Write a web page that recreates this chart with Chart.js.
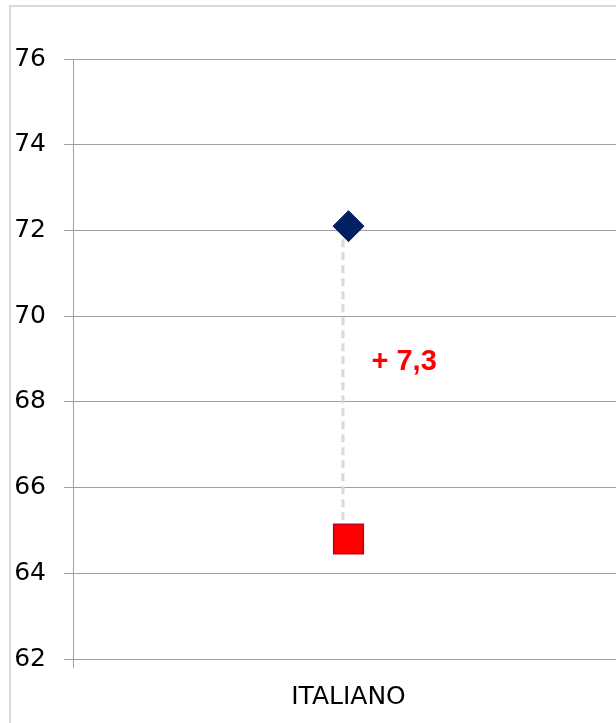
<!DOCTYPE html>
<html>
<head>
<meta charset="utf-8">
<script src="https://cdn.jsdelivr.net/npm/chart.js@4.4.1/dist/chart.umd.min.js"></script>
<style>
  html, body { margin: 0; padding: 0; background: #ffffff; overflow: hidden; width: 616px; height: 723px; }
  #wrap { position: relative; width: 616px; height: 723px; overflow: hidden; }
  #frame { position: absolute; left: 9px; top: 5px; width: 700px; height: 800px;
           border-left: 2px solid #d9d9d9; border-top: 2px solid #d9d9d9; box-sizing: border-box; }
  canvas { position: absolute; left: 0; top: 0; }
</style>
</head>
<body>
<div id="wrap">
  <div id="frame"></div>
  <canvas id="c" width="624" height="723"></canvas>
</div>
<script>
// ---- data ----
const categories = ['ITALIANO'];
const seriesHigh = [72.1];   // navy diamond
const seriesLow = [64.8];    // red square
const diffLabels = ['+ 7,3'];
const yTickValues = [62, 64, 66, 68, 70, 72, 74, 76];

const lineData = categories.flatMap((c, i) => [
  { x: c, y: seriesHigh[i] },
  { x: c, y: seriesLow[i] }
]);

const connectorShift = {
  id: 'connectorShift',
  beforeDatasetDraw(chart, args) {
    if (chart.data.datasets[args.index].isConnector) {
      chart.ctx.save();
      chart.ctx.translate(-5.5, 0);
    }
  },
  afterDatasetDraw(chart, args) {
    if (chart.data.datasets[args.index].isConnector) {
      chart.ctx.restore();
    }
  }
};

const diffLabelPlugin = {
  id: 'diffLabel',
  afterDatasetsDraw(chart) {
    const ctx = chart.ctx;
    const xs = chart.scales.x, ys = chart.scales.y;
    ctx.save();
    ctx.font = 'bold 29px "Liberation Sans", Arial, sans-serif';
    ctx.fillStyle = '#ff0000';
    ctx.textAlign = 'left';
    ctx.textBaseline = 'middle';
    categories.forEach((c, i) => {
      const px = xs.getPixelForValue(i);
      const mid = (ys.getPixelForValue(seriesHigh[i]) + ys.getPixelForValue(seriesLow[i])) / 2;
      ctx.fillText(diffLabels[i], px + 23, mid - 21);
    });
    ctx.restore();
  }
};

const gridGray = '#a0a0a0';
const tickFont = { family: '"DejaVu Sans", Verdana, sans-serif', size: 25 };

new Chart(document.getElementById('c'), {
  type: 'line',
  data: {
    labels: categories,
    datasets: [
      {
        label: 'high',
        data: seriesHigh,
        showLine: false,
        pointStyle: 'rectRot',
        pointRadius: 15.5,
        pointBackgroundColor: '#002060',
        pointBorderColor: '#002060',
        pointBorderWidth: 1
      },
      {
        label: 'low',
        data: seriesLow,
        showLine: false,
        pointStyle: 'rect',
        pointRadius: 21,
        pointBackgroundColor: '#ff0000',
        pointBorderColor: '#c00020',
        pointBorderWidth: 1.5
      },
      {
        label: 'connector',
        isConnector: true,
        data: lineData,
        borderColor: '#d9d9d9',
        borderWidth: 3,
        borderDash: [8, 5],
        pointRadius: 0,
        fill: false
      }
    ]
  },
  options: {
    responsive: false,
    animation: false,
    devicePixelRatio: 1,
    layout: { autoPadding: false, padding: { left: 0, right: 0, top: 59, bottom: 0 } },
    plugins: { legend: { display: false }, tooltip: { enabled: false } },
    scales: {
      x: {
        type: 'category',
        offset: true,
        afterFit(scale) { scale.height = 64; scale.paddingLeft = 0; scale.paddingRight = 0; },
        grid: { display: true, drawOnChartArea: false, offset: true, tickLength: 9, color: gridGray },
        border: { display: true, color: gridGray },
        ticks: { font: tickFont, color: '#000000', padding: 14 }
      },
      y: {
        min: 62,
        max: 76,
        afterFit(scale) { scale.width = 73; },
        afterBuildTicks(scale) { scale.ticks = yTickValues.map(v => ({ value: v })); },
        grid: { color: gridGray, tickLength: 9, lineWidth: 1 },
        border: { display: true, color: gridGray },
        ticks: { font: tickFont, color: '#000000', padding: 18 }
      }
    }
  },
  plugins: [connectorShift, diffLabelPlugin]
});
</script>
</body>
</html>
